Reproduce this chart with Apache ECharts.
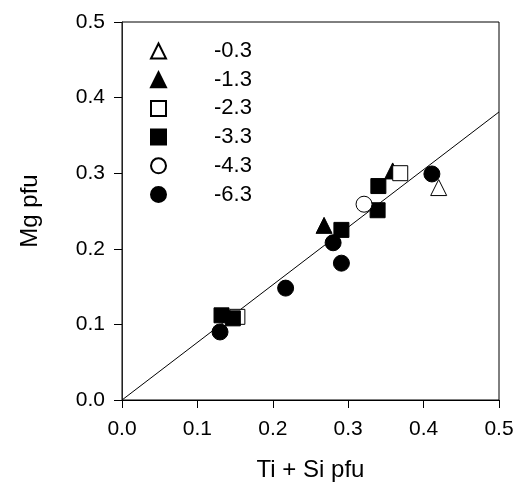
<!DOCTYPE html>
<html>
<head>
<meta charset="utf-8">
<script src="https://cdn.jsdelivr.net/npm/echarts@6/dist/echarts.min.js"></script>
<style>
	html, body { margin: 0; padding: 0; background: #fff; }
	#chart { width: 526px; height: 495px; }
</style>
</head>
<body>
<div id="chart"></div>
<script>
// data: [Ti + Si pfu, Mg pfu]
var s03 = [[0.420, 0.281]];
var s13 = [[0.359, 0.303], [0.268, 0.231]];
var s23 = [[0.369, 0.300], [0.153, 0.110]];
var s33 = [[0.340, 0.283], [0.339, 0.251], [0.291, 0.225], [0.132, 0.112], [0.147, 0.108]];
var s43 = [[0.321, 0.259]];
var s63 = [[0.411, 0.299], [0.280, 0.208], [0.291, 0.181], [0.217, 0.148], [0.130, 0.090]];
var fitLine = [[0, 0], [0.5, 0.381]];
var seriesNames = ['-0.3', '-1.3', '-2.3', '-3.3', '-4.3', '-6.3'];

(function(){
	var myChart = echarts.init(document.getElementById('chart'));
	var font = 'Liberation Sans, Arial, Helvetica, sans-serif';

	function scatter(name, data, symbol, filled, size) {
		return {
			name: name,
			type: 'scatter',
			data: data,
			symbol: symbol,
			symbolSize: size,
			itemStyle: {
				color: filled ? '#000' : '#fff',
				borderColor: '#000',
				borderWidth: 1,
				opacity: 1
			},
			z: 3
		};
	}

	var option = {
		animation: false,
		backgroundColor: '#fff',
		grid: {
			left: 122,
			right: 27,
			top: 22,
			bottom: 95,
			show: true,
			borderColor: '#000',
			borderWidth: 1
		},
		legend: {
			orient: 'vertical',
			left: 145,
			top: 35,
			itemWidth: 15,
			itemHeight: 15,
			itemGap: 6.7,
			data: seriesNames,
			textStyle: {
				fontFamily: font,
				fontSize: 22,
				color: '#000',
				lineHeight: 22,
				padding: [0, 0, 0, 43]
			}
		},
		xAxis: {
			type: 'value',
			min: 0,
			max: 0.5,
			interval: 0.1,
			name: 'Ti + Si pfu',
			nameLocation: 'middle',
			nameGap: 58,
			nameTextStyle: { fontFamily: font, fontSize: 24, color: '#000' },
			axisLine: { lineStyle: { color: '#000' } },
			axisTick: { length: 8, lineStyle: { color: '#000' } },
			axisLabel: {
				fontFamily: font, fontSize: 21, color: '#000', margin: 19,
				formatter: function (v) { return v.toFixed(1); }
			},
			splitLine: { show: false }
		},
		yAxis: {
			type: 'value',
			min: 0,
			max: 0.5,
			interval: 0.1,
			name: 'Mg pfu',
			nameLocation: 'middle',
			nameGap: 80,
			nameTextStyle: { fontFamily: font, fontSize: 24, color: '#000' },
			axisLine: { lineStyle: { color: '#222' } },
			axisTick: { length: 8, lineStyle: { color: '#000' } },
			axisLabel: {
				fontFamily: font, fontSize: 21, color: '#000', margin: 17,
				formatter: function (v) { return v.toFixed(1); }
			},
			splitLine: { show: false }
		},
		series: [
			{
				name: 'fit',
				type: 'line',
				data: fitLine,
				symbol: 'none',
				lineStyle: { color: '#000', width: 1 },
				z: 2
			},
			scatter(seriesNames[0], s03, 'triangle', false, 16),
			scatter(seriesNames[1], s13, 'triangle', true, 16),
			scatter(seriesNames[2], s23, 'rect', false, 15),
			scatter(seriesNames[3], s33, 'rect', true, 15),
			scatter(seriesNames[4], s43, 'circle', false, 16),
			scatter(seriesNames[5], s63, 'circle', true, 16)
		]
	};
	myChart.setOption(option);
	window.addEventListener("resize", function() {
		myChart.resize();
	});
})();
</script>
</body>
</html>
